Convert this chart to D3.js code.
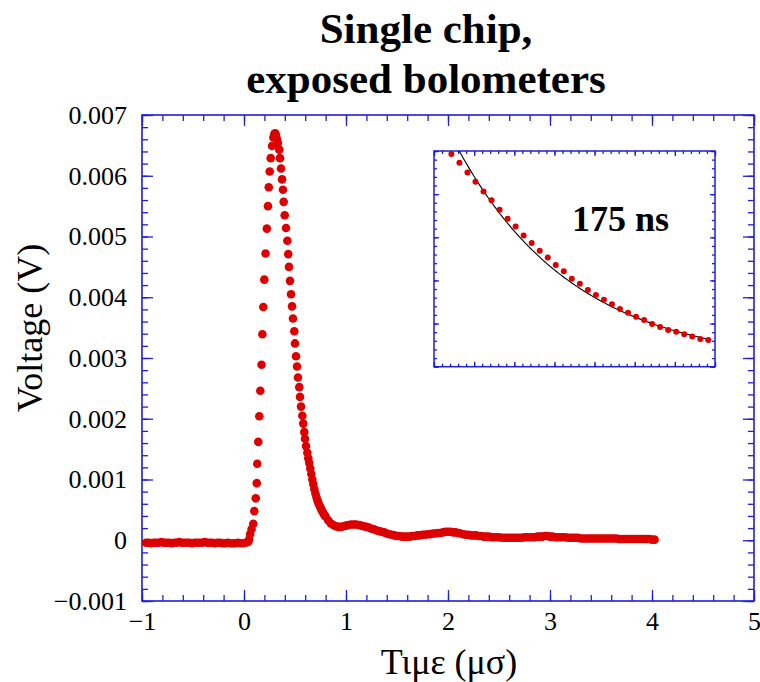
<!DOCTYPE html>
<html>
<head>
<meta charset="utf-8">
<script src="https://cdn.jsdelivr.net/npm/d3@7"></script>
<style>
  html, body { margin: 0; padding: 0; background: #fff; }
  svg { display: block; }
  text { font-family: "Liberation Serif", "Times New Roman", Times, serif; fill: #000; }
</style>
</head>
<body>
<svg id="chart" width="760" height="682"></svg>
<script>
// ---- Pulse record: voltage vs time (μs) ----
// Pre-trigger baseline, sampled every 0.025 μs from -0.96 μs
const baselineStart = -0.96;
const baselineStep = 0.025;
const baselineVolts = [
  -0.00004, -0.00004, -0.00005, -0.00004, -0.00004, -0.00004, -0.00003, -0.00004,
  -0.00004, -0.00004, -0.00005, -0.00004, -0.00004, -0.00003, -0.00004, -0.00004,
  -0.00004, -0.00004, -0.00005, -0.00004, -0.00004, -0.00004, -0.00004, -0.00003,
  -0.00004, -0.00004, -0.00004, -0.00005, -0.00004, -0.00004, -0.00005, -0.00005,
  -0.00004, -0.00005, -0.00005, -0.00005, -0.00004, -0.00005, -0.00005, -0.00004,
  -0.00003
];

// Rise, peak and fast decay
const pulseTimes = [
  0.050, 0.060, 0.074, 0.091, 0.101, 0.115, 0.125, 0.130, 0.140, 0.150,
  0.160, 0.172, 0.180, 0.189, 0.199, 0.211, 0.224, 0.235, 0.243, 0.252,
  0.262, 0.275, 0.288, 0.298, 0.306, 0.314, 0.323, 0.333, 0.346, 0.353,
  0.363, 0.373, 0.382, 0.389, 0.399, 0.412, 0.425, 0.434, 0.441, 0.451,
  0.461, 0.471, 0.480, 0.493, 0.500, 0.510, 0.520, 0.529, 0.542, 0.549,
  0.559, 0.572, 0.581, 0.591, 0.598, 0.608, 0.621, 0.630, 0.640, 0.650,
  0.660, 0.670, 0.680, 0.690, 0.700, 0.710, 0.720, 0.730, 0.740, 0.750,
  0.760, 0.770, 0.780, 0.790, 0.800
];
const pulseVolts = [
  0.00001, 0.00010, 0.00018, 0.00027, 0.00048, 0.00069, 0.00094, 0.00126, 0.00162, 0.00204,
  0.00246, 0.00289, 0.00339, 0.00384, 0.00429, 0.00472, 0.00513, 0.00550, 0.00581, 0.00607,
  0.00629, 0.00649, 0.00663, 0.00669, 0.00670, 0.00666, 0.00660, 0.00654, 0.00643, 0.00629,
  0.00612, 0.00594, 0.00577, 0.00557, 0.00535, 0.00514, 0.00493, 0.00471, 0.00450, 0.00427,
  0.00405, 0.00385, 0.00365, 0.00344, 0.00324, 0.00303, 0.00286, 0.00268, 0.00252, 0.00236,
  0.00220, 0.00205, 0.00192, 0.00178, 0.00167, 0.00155, 0.00144, 0.00135, 0.00127, 0.00118,
  0.00109, 0.00100, 0.00092, 0.00084, 0.00077, 0.00071, 0.00066, 0.00061, 0.00057, 0.00054,
  0.00050, 0.00047, 0.00044, 0.00041, 0.00039
];

// Slow tail with ringing, sampled every 0.025 μs from 0.825 μs
const tailStart = 0.825;
const tailStep = 0.025;
const tailVolts = [
  0.00033, 0.00028, 0.00025, 0.00023, 0.00022, 0.00022, 0.00023, 0.00024, 0.00025, 0.00026,
  0.00026, 0.00026, 0.00025, 0.00024, 0.00023, 0.00022, 0.00021, 0.00019, 0.00018, 0.00016,
  0.00015, 0.00014, 0.00013, 0.00011, 0.00010, 0.00009, 0.00008, 0.00007, 0.00007, 0.00006,
  0.00006, 0.00006, 0.00006, 0.00007, 0.00007, 0.00008, 0.00008, 0.00009, 0.00009, 0.00010,
  0.00010, 0.00011, 0.00011, 0.00012, 0.00012, 0.00013, 0.00014, 0.00014, 0.00014, 0.00013,
  0.00013, 0.00012, 0.00011, 0.00010, 0.00009, 0.00009, 0.00008, 0.00008, 0.00008, 0.00007,
  0.00007, 0.00006, 0.00006, 0.00006, 0.00005, 0.00005, 0.00005, 0.00005, 0.00004, 0.00004,
  0.00004, 0.00004, 0.00004, 0.00004, 0.00004, 0.00004, 0.00004, 0.00005, 0.00005, 0.00005,
  0.00005, 0.00005, 0.00006, 0.00006, 0.00006, 0.00007, 0.00007, 0.00006, 0.00006, 0.00005,
  0.00005, 0.00005, 0.00005, 0.00005, 0.00004, 0.00004, 0.00004, 0.00004, 0.00004, 0.00003,
  0.00003, 0.00003, 0.00003, 0.00003, 0.00003, 0.00003, 0.00003, 0.00003, 0.00003, 0.00003,
  0.00003, 0.00003, 0.00003, 0.00003, 0.00002, 0.00002, 0.00002, 0.00002, 0.00002, 0.00002,
  0.00002, 0.00002, 0.00002, 0.00002, 0.00002, 0.00002, 0.00002, 0.00001, 0.00001
];

// Main axis ticks
const xTickValues = [-1, 0, 1, 2, 3, 4, 5];
const yTickValues = [-0.001, 0, 0.001, 0.002, 0.003, 0.004, 0.005, 0.006, 0.007];

// ---- Inset: decay samples (ns) with exponential fit ----
const insetStart = 26;      // ns
const insetStep = 12;       // ns
const insetValues = [
  4.93, 4.73, 4.50, 4.29, 4.06, 3.86, 3.64, 3.43, 3.25, 3.04,
  2.87, 2.69, 2.53, 2.36, 2.21, 2.04, 1.92, 1.78, 1.66, 1.55,
  1.45, 1.34, 1.25, 1.16, 1.08, 0.99, 0.92, 0.85, 0.81, 0.75,
  0.70, 0.64, 0.62
];
const fitTau = 175;         // ns, decay constant
const fitAmplitude = 6.15;
const fitOffset = 0.045;
const fitLabel = "175 ns";

const titleLines = ["Single chip,", "exposed bolometers"];
const xLabel = "Τιμε (μσ)";
const yLabel = "Voltage (V)";

// ---- Assemble points ----
const points = [];
baselineVolts.forEach((v, i) => points.push({ t: baselineStart + i * baselineStep, v }));
pulseTimes.forEach((t, i) => { if (i < pulseVolts.length) points.push({ t, v: pulseVolts[i] }); });
tailVolts.forEach((v, i) => points.push({ t: tailStart + i * tailStep, v }));

const insetPoints = insetValues.map((v, i) => ({ t: insetStart + i * insetStep, v }));

// ---- Layout ----
const axisColor = "#1f1fd8";
const dotColor = "#dd0000";
const svg = d3.select("#chart");

const x = d3.scaleLinear().domain([-1, 5]).range([142, 754]);
const y = d3.scaleLinear().domain([-0.001, 0.007]).range([601, 115]);

const xMinor = d3.range(-1, 5.0001, 0.2);
const yMinor = d3.range(-0.001, 0.00701, 0.0002);

// Title
svg.append("g").selectAll("text").data(titleLines).join("text")
  .attr("x", 426)
  .attr("y", (d, i) => 43 + i * 50)
  .attr("text-anchor", "middle")
  .attr("font-size", 43)
  .attr("font-weight", "bold")
  .text(d => d);

// Frame
svg.append("rect")
  .attr("x", x.range()[0]).attr("y", y.range()[1])
  .attr("width", x.range()[1] - x.range()[0])
  .attr("height", y.range()[0] - y.range()[1])
  .attr("fill", "none").attr("stroke", axisColor).attr("stroke-width", 1.6);

function styleAxis(g) {
  g.select(".domain").remove();
  g.selectAll(".tick line").attr("stroke", axisColor).attr("stroke-width", 1.3);
  g.selectAll(".tick text").attr("fill", "#000").attr("font-size", 26)
    .attr("font-family", "\"Liberation Serif\", \"Times New Roman\", Times, serif");
}

const fmtY = d => {
  if (Math.abs(d) < 1e-12) return "0";
  return (d < 0 ? "\u2212" : "") + Math.abs(d).toFixed(3);
};
const fmtX = d => (d < 0 ? "\u2212" : "") + Math.abs(d);

const bottomY = y.range()[0], topY = y.range()[1];
const leftX = x.range()[0], rightX = x.range()[1];

// bottom
svg.append("g").attr("transform", `translate(0,${bottomY})`)
  .call(d3.axisBottom(x).tickValues(xMinor).tickSize(-6).tickFormat(""))
  .call(styleAxis);
svg.append("g").attr("transform", `translate(0,${bottomY})`)
  .call(d3.axisBottom(x).tickValues(xTickValues).tickSize(-11).tickPadding(11).tickFormat(fmtX))
  .call(styleAxis);
// top
svg.append("g").attr("transform", `translate(0,${topY})`)
  .call(d3.axisTop(x).tickValues(xMinor).tickSize(-6).tickFormat(""))
  .call(styleAxis);
svg.append("g").attr("transform", `translate(0,${topY})`)
  .call(d3.axisTop(x).tickValues(xTickValues).tickSize(-11).tickFormat(""))
  .call(styleAxis);
// left
svg.append("g").attr("transform", `translate(${leftX},0)`)
  .call(d3.axisLeft(y).tickValues(yMinor).tickSize(-6).tickFormat(""))
  .call(styleAxis);
svg.append("g").attr("transform", `translate(${leftX},0)`)
  .call(d3.axisLeft(y).tickValues(yTickValues).tickSize(-11).tickPadding(15).tickFormat(fmtY))
  .call(styleAxis);
// right
svg.append("g").attr("transform", `translate(${rightX},0)`)
  .call(d3.axisRight(y).tickValues(yMinor).tickSize(-6).tickFormat(""))
  .call(styleAxis);
svg.append("g").attr("transform", `translate(${rightX},0)`)
  .call(d3.axisRight(y).tickValues(yTickValues).tickSize(-11).tickFormat(""))
  .call(styleAxis);

// Axis titles
svg.append("text")
  .attr("x", 449).attr("y", 674)
  .attr("text-anchor", "middle").attr("font-size", 36)
  .text(xLabel);
svg.append("text")
  .attr("transform", `translate(42,328) rotate(-90)`)
  .attr("text-anchor", "middle").attr("font-size", 36)
  .text(yLabel);

// Data dots
svg.append("g").selectAll("circle").data(points).join("circle")
  .attr("cx", d => x(d.t))
  .attr("cy", d => y(d.v))
  .attr("r", 4.3)
  .attr("fill", dotColor);

// ---- Inset ----
const ix = d3.scaleLinear().domain([0, 420]).range([434, 715]);
const iy = d3.scaleLinear().domain([0, 5]).range([366.7, 151]);
const ixMajor = d3.range(0, 420.1, 60), ixMinor = d3.range(0, 420.1, 12);
const iyMajor = d3.range(0, 5.01, 1), iyMinor = d3.range(0, 5.01, 0.2);

const inset = svg.append("g");
inset.append("rect")
  .attr("x", ix.range()[0]).attr("y", iy.range()[1])
  .attr("width", ix.range()[1] - ix.range()[0])
  .attr("height", iy.range()[0] - iy.range()[1])
  .attr("fill", "#fff").attr("stroke", axisColor).attr("stroke-width", 1.5);

const iB = iy.range()[0], iT = iy.range()[1], iL = ix.range()[0], iR = ix.range()[1];
[[d3.axisBottom, iB, ix, ixMinor, ixMajor, "h"], [d3.axisTop, iT, ix, ixMinor, ixMajor, "h"],
 [d3.axisLeft, iL, iy, iyMinor, iyMajor, "v"], [d3.axisRight, iR, iy, iyMinor, iyMajor, "v"]]
  .forEach(([ax, pos, sc, minor, major, dir]) => {
    const tr = dir === "h" ? `translate(0,${pos})` : `translate(${pos},0)`;
    inset.append("g").attr("transform", tr)
      .call(ax(sc).tickValues(minor).tickSize(-3).tickFormat("")).call(styleAxis);
    inset.append("g").attr("transform", tr)
      .call(ax(sc).tickValues(major).tickSize(-5).tickFormat("")).call(styleAxis);
  });

inset.append("clipPath").attr("id", "insetClip")
  .append("rect")
  .attr("x", iL).attr("y", iT).attr("width", iR - iL).attr("height", iB - iT);

const fitT = d3.range(24, 410.1, 2);
inset.append("path")
  .datum(fitT)
  .attr("clip-path", "url(#insetClip)")
  .attr("fill", "none").attr("stroke", "#000").attr("stroke-width", 1.1)
  .attr("d", d3.line()
    .x(t => ix(t))
    .y(t => iy(fitOffset + fitAmplitude * Math.exp(-t / fitTau))));

inset.append("g").selectAll("circle").data(insetPoints).join("circle")
  .attr("cx", d => ix(d.t))
  .attr("cy", d => iy(d.v))
  .attr("r", 3)
  .attr("fill", dotColor);

inset.append("text")
  .attr("x", 572).attr("y", 231)
  .attr("font-size", 36).attr("font-weight", "bold")
  .text(fitLabel);
</script>
</body>
</html>
